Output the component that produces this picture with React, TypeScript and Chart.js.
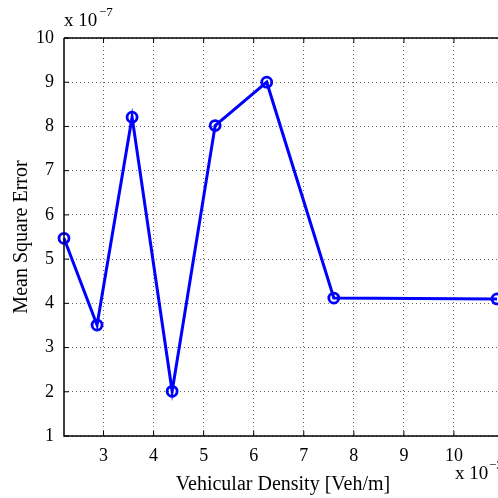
import React, { useEffect, useRef } from "react";
import { Chart, registerables } from "chart.js";

Chart.register(...registerables);

const densityX: number[] = [2.21, 2.87, 3.57, 4.37, 5.23, 6.26, 7.6, 10.86];
const mseY: number[] = [5.47, 3.51, 8.21, 2.01, 8.02, 9.0, 4.12, 4.1];
const xTickValues: number[] = [3, 4, 5, 6, 7, 8, 9, 10];
const yTickValues: number[] = [1, 2, 3, 4, 5, 6, 7, 8, 9, 10];
const xTitle = "Vehicular Density [Veh/m]";
const yTitle = "Mean Square Error";
const yExponent = "\u22127";
const xExponent = "\u22123";

const FONT = "'Liberation Serif', 'DejaVu Serif', serif";

const decorPlugin = {
  id: "decor",
  afterDraw(chart: any) {
    const { ctx, chartArea } = chart;
    const { left, right, top, bottom } = chartArea;
    ctx.save();
    ctx.setLineDash([]);
    ctx.strokeStyle = "#000";
    ctx.lineWidth = 1.5;
    ctx.beginPath();
    ctx.moveTo(left, top);
    ctx.lineTo(right + 2, top);
    ctx.moveTo(left, top);
    ctx.lineTo(left, bottom);
    ctx.lineTo(right + 2, bottom);
    ctx.stroke();
    ctx.lineWidth = 1;
    const xs = chart.scales.x;
    const ys = chart.scales.y;
    xTickValues.forEach((v) => {
      const px = xs.getPixelForValue(v);
      ctx.beginPath();
      ctx.moveTo(px, bottom);
      ctx.lineTo(px, bottom - 5);
      ctx.moveTo(px, top);
      ctx.lineTo(px, top + 5);
      ctx.stroke();
    });
    yTickValues.forEach((v) => {
      const py = ys.getPixelForValue(v);
      ctx.beginPath();
      ctx.moveTo(left, py);
      ctx.lineTo(left + 5, py);
      ctx.stroke();
    });
    ctx.fillStyle = "#000";
    ctx.font = `19px ${FONT}`;
    ctx.textBaseline = "alphabetic";
    ctx.textAlign = "left";
    ctx.fillText("x 10", 64, 26);
    ctx.font = `13px ${FONT}`;
    ctx.fillText(yExponent, 99, 16);
    ctx.font = `19px ${FONT}`;
    ctx.fillText("x 10", 455, 479);
    ctx.font = `13px ${FONT}`;
    ctx.fillText(xExponent, 489, 469);
    ctx.font = `20px ${FONT}`;
    ctx.textAlign = "center";
    ctx.textBaseline = "middle";
    ctx.fillText(xTitle, 283, 485);
    ctx.save();
    ctx.translate(22, 237);
    ctx.rotate(-Math.PI / 2);
    ctx.fillText(yTitle, 0, 0);
    ctx.restore();
    ctx.restore();
  },
};

export default function App() {
  const canvasRef = useRef<HTMLCanvasElement | null>(null);

  useEffect(() => {
    document.body.style.margin = "0";
    const canvas = canvasRef.current;
    if (!canvas) return;
    const chart = new Chart(canvas, {
      type: "line",
      data: {
        datasets: [
          {
            data: densityX.map((x, i) => ({ x, y: mseY[i] })),
            borderColor: "#0000ff",
            backgroundColor: "rgba(0,0,0,0)",
            borderWidth: 3,
            pointRadius: 5,
            pointBorderWidth: 2.8,
            pointBackgroundColor: "rgba(0,0,0,0)",
            pointBorderColor: "#0000ff",
            tension: 0,
            clip: false as any,
          },
        ],
      },
      options: {
        animation: false,
        responsive: false,
        maintainAspectRatio: false,
        layout: { autoPadding: false, padding: { top: 38, right: 0, left: 0, bottom: 0 } } as any,
        plugins: {
          legend: { display: false },
          tooltip: { enabled: false },
        },
        scales: {
          x: {
            type: "linear",
            min: 2.21,
            max: 10.88,
            afterBuildTicks: (scale: any) => {
              scale.ticks = xTickValues.map((v) => ({ value: v }));
            },
            afterFit: (scale: any) => {
              scale.height = 62;
            },
            grid: {
              color: "rgba(0,0,0,0.6)",
              lineWidth: 1,
              drawTicks: false,
            },
            border: { display: false, dash: [1, 3] } as any,
            ticks: {
              color: "#000",
              font: { family: FONT, size: 18 },
              padding: 9,
              maxRotation: 0,
            },
          },
          y: {
            type: "linear",
            min: 1,
            max: 10,
            afterBuildTicks: (scale: any) => {
              scale.ticks = yTickValues.map((v) => ({ value: v }));
            },
            afterFit: (scale: any) => {
              scale.width = 64;
            },
            grid: {
              color: "rgba(0,0,0,0.6)",
              lineWidth: 1,
              drawTicks: false,
            },
            border: { display: false, dash: [1, 3] } as any,
            ticks: {
              color: "#000",
              font: { family: FONT, size: 18 },
              padding: 10,
            },
          },
        },
      },
      plugins: [decorPlugin],
    });
    return () => chart.destroy();
  }, []);

  return (
    <div style={{ position: "absolute", left: 0, top: 0, width: 498, height: 498, background: "#fff" }}>
      <canvas ref={canvasRef} width={498} height={498} style={{ width: 498, height: 498, display: "block" }} />
    </div>
  );
}
